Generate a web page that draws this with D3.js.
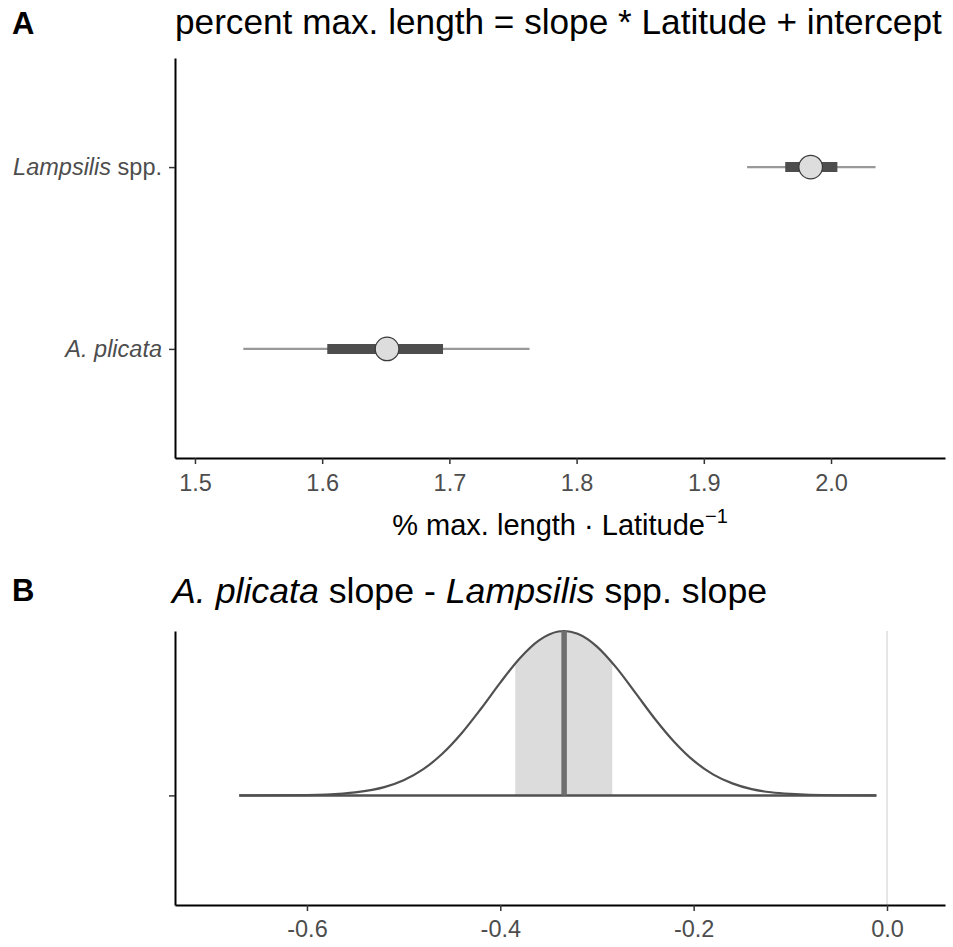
<!DOCTYPE html>
<html><head><meta charset="utf-8">
<script src="https://cdn.jsdelivr.net/npm/d3@7"></script>
<style>
html,body{margin:0;padding:0;background:#fff;}
svg{display:block;font-family:"Liberation Sans",Arial,sans-serif;}
</style></head>
<body>
<svg id="chart" width="953" height="947"></svg>
<script>
// ---------- Panel A data ----------
const speciesCats = ["Lampsilis spp.", "A. plicata"];
const slopeMedian = [1.984, 1.651];
const slopeInnerLo = [1.964, 1.604];
const slopeInnerHi = [2.005, 1.695];
const slopeOuterLo = [1.934, 1.538];
const slopeOuterHi = [2.035, 1.763];
const xTicksA = [1.5, 1.6, 1.7, 1.8, 1.9, 2.0];

// ---------- Panel B data ----------
const diffX = [-0.670, -0.600, -0.580, -0.550, -0.520, -0.500, -0.480, -0.460, -0.440, -0.420, -0.400, -0.380, -0.360, -0.340, -0.334,
  -0.320, -0.300, -0.280, -0.260, -0.240, -0.220, -0.200, -0.180, -0.160, -0.140, -0.120, -0.100, -0.080, -0.011];
const diffDensity = [0.000, 0.002, 0.005, 0.018, 0.050, 0.092, 0.158, 0.253, 0.378, 0.527, 0.686, 0.833, 0.943, 0.997, 1.000,
  0.983, 0.905, 0.777, 0.622, 0.465, 0.325, 0.211, 0.128, 0.073, 0.038, 0.019, 0.009, 0.004, 0.000];
const diffMedianVal = -0.334;
const diffIntLo = -0.3845;
const diffIntHi = -0.2842;
const xTicksB = [-0.6, -0.4, -0.2, 0.0];
const refLine = 0.0;

const svg = d3.select("#chart");
svg.append("rect").attr("width", 953).attr("height", 947).attr("fill", "#fff");

const FONT = '"Liberation Sans", Arial, sans-serif';
const tickColor = "#4D4D4D";
const TICK_FS = 23.5;

function styleAxis(g) {
  g.select(".domain").attr("stroke", "#000").attr("stroke-width", 2);
  g.selectAll(".tick line").attr("stroke", "#333").attr("stroke-width", 1.5);
  g.selectAll(".tick text").attr("fill", tickColor).attr("font-size", TICK_FS).attr("font-family", FONT);
}

// ================= Panel A =================
const A = { left: 175, right: 945, top: 58, bottom: 458 };
const xA = d3.scaleLinear().domain([1.4843, 2.0896]).range([A.left, A.right]);
const yA = d3.scalePoint().domain(speciesCats).range([A.top, A.bottom]).padding(0.6);

svg.append("text").attr("x", 12).attr("y", 34).attr("font-size", 31).attr("font-weight", "bold")
  .attr("font-family", FONT).text("A");
svg.append("text").attr("x", 175).attr("y", 34).attr("font-size", 35.2).attr("font-family", FONT)
  .attr("fill", "#000").text("percent max. length = slope * Latitude + intercept");

const gA = svg.append("g");
gA.selectAll("line.outer").data(speciesCats).join("line")
  .attr("x1", (d, i) => xA(slopeOuterLo[i])).attr("x2", (d, i) => xA(slopeOuterHi[i]))
  .attr("y1", d => yA(d)).attr("y2", d => yA(d))
  .attr("stroke", "#999999").attr("stroke-width", 2.2);
gA.selectAll("line.inner").data(speciesCats).join("line")
  .attr("x1", (d, i) => xA(slopeInnerLo[i])).attr("x2", (d, i) => xA(slopeInnerHi[i]))
  .attr("y1", d => yA(d)).attr("y2", d => yA(d))
  .attr("stroke", "#4D4D4D").attr("stroke-width", 10);
gA.selectAll("circle").data(speciesCats).join("circle")
  .attr("cx", (d, i) => xA(slopeMedian[i])).attr("cy", d => yA(d)).attr("r", 11.8)
  .attr("fill", "#DDDDDD").attr("stroke", "#3a3a3a").attr("stroke-width", 1.2);

const axAx = svg.append("g").attr("transform", `translate(0,${A.bottom})`)
  .call(d3.axisBottom(xA).tickValues(xTicksA).tickFormat(d => d.toFixed(1)).tickSize(6).tickSizeOuter(0).tickPadding(10));
styleAxis(axAx);
const axAy = svg.append("g").attr("transform", `translate(${A.left},0)`)
  .call(d3.axisLeft(yA).tickSize(6).tickSizeOuter(0).tickPadding(7));
styleAxis(axAy);
axAy.selectAll(".tick text").each(function(d) {
  const t = d3.select(this).text("");
  if (d === "Lampsilis spp.") {
    t.append("tspan").attr("font-style", "italic").text("Lampsilis");
    t.append("tspan").text(" spp.");
  } else {
    t.append("tspan").attr("font-style", "italic").text(d);
  }
});

const xt = svg.append("text").attr("x", (A.left + A.right) / 2).attr("y", 535)
  .attr("text-anchor", "middle").attr("font-size", 29).attr("font-family", FONT).attr("fill", "#000");
xt.append("tspan").text("% max. length \u00B7 Latitude");
xt.append("tspan").attr("dy", -12).attr("font-size", 20).text("\u22121");

// ================= Panel B =================
const B = { left: 175, right: 945, top: 631, bottom: 905 };
const xB = d3.scaleLinear().domain([-0.7365, 0.06]).range([B.left, B.right]);
const yB = d3.scaleLinear().domain([0.4, 1.9]).range([B.bottom, B.top]);
const slabScale = 0.9;
const yDen = v => yB(1 + slabScale * v);

svg.append("text").attr("x", 12).attr("y", 601).attr("font-size", 31).attr("font-weight", "bold")
  .attr("font-family", FONT).text("B");
const tB = svg.append("text").attr("x", 172).attr("y", 603).attr("font-size", 35.7).attr("font-family", FONT).attr("fill", "#000");
tB.append("tspan").attr("font-style", "italic").text("A. plicata");
tB.append("tspan").text(" slope - ");
tB.append("tspan").attr("font-style", "italic").text("Lampsilis");
tB.append("tspan").text(" spp. slope");

svg.append("line").attr("x1", xB(refLine)).attr("x2", xB(refLine)).attr("y1", B.top).attr("y2", B.bottom)
  .attr("stroke", "#DEDEDE").attr("stroke-width", 1.5);

const pts = diffX.map((x, i) => [x, diffDensity[i]]);
const clipId = "intClip";
svg.append("clipPath").attr("id", clipId).append("rect")
  .attr("x", xB(diffIntLo)).attr("width", xB(diffIntHi) - xB(diffIntLo))
  .attr("y", B.top - 5).attr("height", yB(1) - B.top + 5);
const area = d3.area().x(d => xB(d[0])).y0(yB(1)).y1(d => yDen(d[1])).curve(d3.curveMonotoneX);
svg.append("path").datum(pts).attr("d", area).attr("fill", "#DCDCDC").attr("clip-path", `url(#${clipId})`);

const line = d3.line().x(d => xB(d[0])).y(d => yDen(d[1])).curve(d3.curveMonotoneX);
svg.append("path").datum(pts).attr("d", line).attr("fill", "none").attr("stroke", "#505050").attr("stroke-width", 2.2);

svg.append("line").attr("x1", xB(diffX[0])).attr("x2", xB(diffX[diffX.length - 1]))
  .attr("y1", yB(1)).attr("y2", yB(1)).attr("stroke", "#505050").attr("stroke-width", 2.5);
svg.append("line").attr("x1", xB(diffMedianVal)).attr("x2", xB(diffMedianVal))
  .attr("y1", yB(1)).attr("y2", yDen(1)).attr("stroke", "#6E6E6E").attr("stroke-width", 5.5);

const axBx = svg.append("g").attr("transform", `translate(0,${B.bottom})`)
  .call(d3.axisBottom(xB).tickValues(xTicksB).tickFormat(d => d.toFixed(1)).tickSize(6).tickSizeOuter(0).tickPadding(9));
styleAxis(axBx);
const axBy = svg.append("g").attr("transform", `translate(${B.left},0)`)
  .call(d3.axisLeft(yB).tickValues([1]).tickFormat("").tickSize(6).tickSizeOuter(0));
styleAxis(axBy);
</script>
</body></html>
